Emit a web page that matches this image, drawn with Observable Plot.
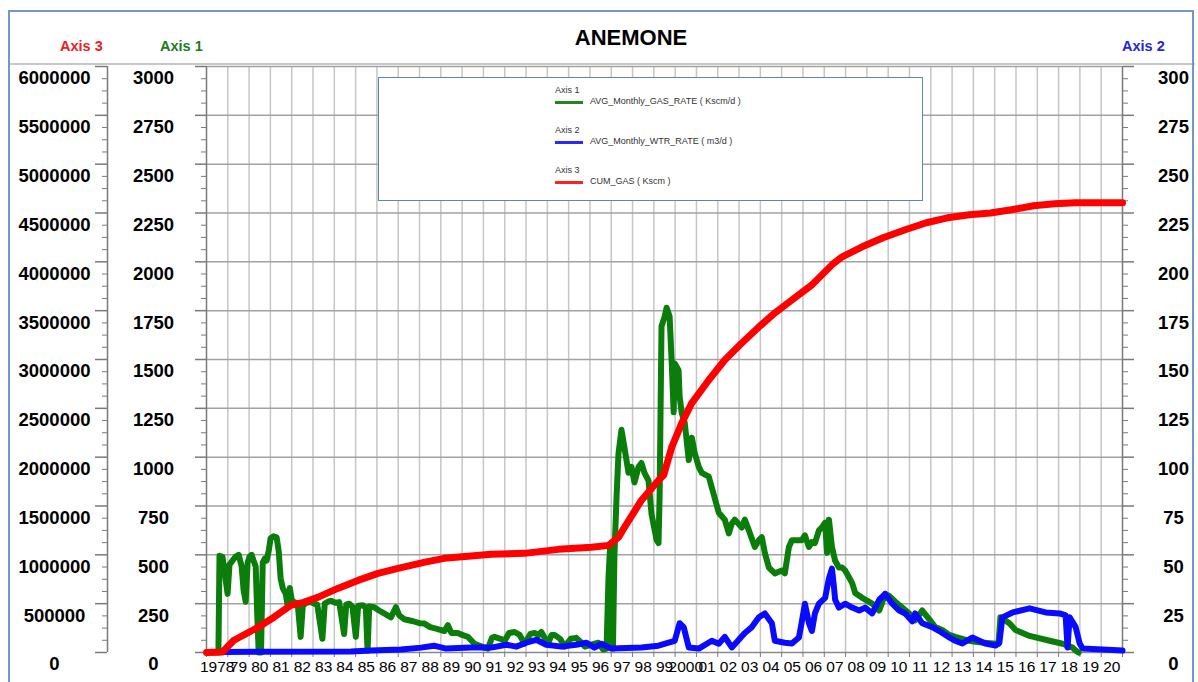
<!DOCTYPE html>
<html>
<head>
<meta charset="utf-8">
<script src="https://cdn.jsdelivr.net/npm/d3@7"></script>
<script src="https://cdn.jsdelivr.net/npm/@observablehq/plot@0.6"></script>
<style>
  html, body { margin: 0; padding: 0; background: #fff; }
  body { width: 1198px; height: 682px; overflow: hidden; position: relative; font-family: 'Liberation Sans', Arial, Helvetica, sans-serif; }
  #chart { position: absolute; left: 0; top: 0; }
  .abs { position: absolute; white-space: nowrap; }
  #frame { position: absolute; left: 8px; top: 10px; width: 1186px; height: 700px; border: 2px solid #7397cb; box-sizing: border-box; }
  #sep { position: absolute; left: 9px; top: 63px; width: 1186px; height: 2px; background: #c8c8c8; }
  #title { left: 0; width: 1262px; top: 25px; text-align: center; font-size: 22px; font-weight: bold; color: #000; }
  .axt { top: 38px; font-size: 14.5px; font-weight: bold; }
  #legend { position: absolute; left: 378px; top: 77px; width: 545px; height: 124px; box-sizing: border-box; border: 1.5px solid #5f84bb; background: #fff; }
  .lg { position: absolute; font-size: 9px; color: #333; white-space: nowrap; }
  .sw { position: absolute; width: 28px; height: 3px; }
</style>
</head>
<body>
<div id="chart"></div>
<div id="sep"></div>
<div id="frame"></div>
<div id="title" class="abs">ANEMONE</div>
<div class="abs axt" style="left:60px;color:#ee1c25;">Axis 3</div>
<div class="abs axt" style="left:160px;color:#1e7b1e;">Axis 1</div>
<div class="abs axt" style="left:1122px;color:#2525e0;">Axis 2</div>
<div id="legend"></div>
<script>
// ---------- tick labels ----------
const axis1Ticks = [0, 250, 500, 750, 1000, 1250, 1500, 1750, 2000, 2250, 2500, 2750, 3000];
const axis1Labels = ["0", "250", "500", "750", "1000", "1250", "1500", "1750", "2000", "2250", "2500", "2750", "3000"];
const axis2Labels = ["0", "25", "50", "75", "100", "125", "150", "175", "200", "225", "250", "275", "300"];
const axis3Labels = ["0", "500000", "1000000", "1500000", "2000000", "2500000", "3000000", "3500000", "4000000", "4500000", "5000000", "5500000", "6000000"];
const yearTicks = [1978, 1979, 1980, 1981, 1982, 1983, 1984, 1985, 1986, 1987, 1988, 1989, 1990, 1991, 1992, 1993, 1994, 1995, 1996, 1997, 1998, 1999, 2000, 2001, 2002, 2003, 2004, 2005, 2006, 2007, 2008, 2009, 2010, 2011, 2012, 2013, 2014, 2015, 2016, 2017, 2018, 2019, 2020, 2021];
const yearLabels = ["1978", "79", "80", "81", "82", "83", "84", "85", "86", "87", "88", "89", "90", "91", "92", "93", "94", "95", "96", "97", "98", "99", "2000", "01", "02", "03", "04", "05", "06", "07", "08", "09", "10", "11", "12", "13", "14", "15", "16", "17", "18", "19", "20"];

// ---------- series: [year, value] ----------
// Axis 1: AVG_Monthly_GAS_RATE (Kscm/d)
const gasRate = [
  [1978.00, 0], [1978.56, 0], [1978.61, 495], [1978.75, 490], [1978.89, 380], [1978.99, 300],
  [1979.08, 450], [1979.22, 470], [1979.36, 490], [1979.51, 500], [1979.65, 440], [1979.74, 320],
  [1979.84, 260], [1979.93, 460], [1980.02, 490], [1980.12, 500], [1980.21, 470], [1980.31, 440],
  [1980.38, 200], [1980.45, 0], [1980.56, 0], [1980.64, 460], [1980.73, 480], [1980.82, 470],
  [1980.92, 520], [1981.01, 585], [1981.15, 595], [1981.29, 590], [1981.39, 520], [1981.48, 380],
  [1981.58, 330], [1981.72, 300], [1981.81, 240], [1981.91, 330], [1982.00, 270], [1982.11, 258],
  [1982.28, 250], [1982.42, 80], [1982.52, 240], [1982.70, 255], [1982.90, 258], [1983.05, 250],
  [1983.20, 245], [1983.44, 70], [1983.55, 250], [1983.70, 260], [1983.84, 265], [1984.05, 255],
  [1984.23, 258], [1984.46, 95], [1984.56, 245], [1984.70, 250], [1984.85, 235], [1985.01, 80],
  [1985.12, 240], [1985.33, 242], [1985.48, 230], [1985.56, 10], [1985.64, 235], [1985.87, 232],
  [1986.10, 215], [1986.34, 200], [1986.50, 190], [1986.66, 180], [1986.89, 232], [1987.05, 190],
  [1987.29, 170], [1987.70, 160], [1988.00, 150], [1988.23, 148], [1988.50, 130], [1988.86, 120],
  [1989.17, 110], [1989.33, 140], [1989.50, 100], [1989.80, 100], [1990.00, 90], [1990.27, 80],
  [1990.58, 45], [1991.05, 25], [1991.21, 20], [1991.40, 75], [1991.52, 80], [1991.80, 70],
  [1992.00, 60], [1992.20, 100], [1992.46, 105], [1992.70, 90], [1992.93, 45], [1993.20, 95],
  [1993.40, 100], [1993.60, 90], [1993.72, 105], [1994.03, 45], [1994.20, 90], [1994.34, 90],
  [1994.60, 70], [1994.81, 30], [1995.10, 70], [1995.36, 75], [1995.60, 50], [1995.76, 30],
  [1996.07, 40], [1996.39, 50], [1996.62, 15], [1996.78, 20], [1996.87, 380], [1996.94, 530],
  [1997.01, 300], [1997.08, 20], [1997.15, 500], [1997.25, 800], [1997.34, 1020], [1997.48, 1140],
  [1997.62, 1050], [1997.81, 920], [1997.95, 950], [1998.09, 870], [1998.28, 950], [1998.42, 970],
  [1998.56, 920], [1998.75, 880], [1998.89, 710], [1999.13, 575], [1999.22, 560], [1999.27, 800],
  [1999.36, 1670], [1999.51, 1720], [1999.60, 1765], [1999.74, 1720], [1999.84, 1480], [1999.93, 1230],
  [1999.98, 1480], [2000.16, 1445], [2000.21, 1310], [2000.31, 1225], [2000.45, 1175], [2000.64, 985],
  [2000.78, 1100], [2000.92, 1020], [2001.11, 950], [2001.25, 920], [2001.58, 900], [2001.72, 845],
  [2002.05, 715], [2002.33, 680], [2002.52, 610], [2002.66, 660], [2002.80, 680], [2003.13, 640],
  [2003.27, 680], [2003.46, 625], [2003.74, 540], [2003.93, 575], [2004.07, 590], [2004.21, 510],
  [2004.40, 435], [2004.68, 405], [2005.01, 420], [2005.15, 405], [2005.34, 540], [2005.48, 575],
  [2005.95, 575], [2006.09, 600], [2006.28, 540], [2006.42, 565], [2006.56, 560], [2006.75, 625],
  [2006.89, 640], [2007.04, 665], [2007.13, 510], [2007.22, 680], [2007.36, 540], [2007.51, 470],
  [2007.69, 435], [2007.84, 435], [2007.98, 420], [2008.16, 385], [2008.31, 355], [2008.45, 305],
  [2008.78, 280], [2009.25, 250], [2009.58, 215], [2009.86, 300], [2010.05, 290], [2010.33, 260],
  [2010.66, 230], [2010.99, 200], [2011.27, 165], [2011.60, 215], [2011.93, 170], [2012.21, 130],
  [2012.54, 115], [2012.87, 90], [2013.15, 80], [2013.48, 70], [2013.81, 60], [2014.09, 55],
  [2014.52, 50], [2015.04, 45], [2015.18, 45], [2015.27, 180], [2015.69, 150], [2015.98, 115],
  [2016.64, 85], [2017.58, 60], [2018.19, 45], [2018.66, 25], [2018.80, 10], [2018.94, 0]
];

// Axis 2: AVG_Monthly_WTR_RATE (m3/d)
const waterRate = [
  [1978.75, 0.3], [1984.78, 0.5], [1985.72, 1], [1987.13, 1.5], [1988.07, 2.5], [1988.68, 3.5],
  [1989.25, 2], [1990.42, 2.5], [1991.36, 2.5], [1992.07, 4], [1992.54, 3], [1993.01, 5],
  [1993.48, 6.5], [1993.95, 4], [1994.66, 3], [1995.36, 4], [1995.84, 5], [1996.21, 2.5],
  [1996.54, 4.5], [1997.01, 2], [1998.42, 2.6], [1999.22, 3.5], [1999.69, 5], [1999.98, 6],
  [2000.21, 15], [2000.40, 13], [2000.64, 2.6], [2001.11, 2], [2001.72, 6], [2002.05, 4.5],
  [2002.33, 8], [2002.66, 2.6], [2003.27, 10], [2003.60, 13], [2003.93, 18], [2004.21, 20],
  [2004.54, 15], [2004.68, 6], [2005.15, 5], [2005.48, 4.6], [2005.81, 7.7], [2005.95, 16],
  [2006.09, 25], [2006.28, 15], [2006.42, 11], [2006.56, 20], [2006.75, 25], [2007.04, 28],
  [2007.22, 38], [2007.36, 43], [2007.46, 33], [2007.51, 27], [2007.69, 23], [2007.98, 25],
  [2008.31, 23], [2008.64, 21.5], [2008.92, 23], [2009.25, 20], [2009.58, 27], [2009.86, 30],
  [2010.19, 25], [2010.52, 21.5], [2010.80, 20], [2011.13, 16], [2011.27, 20], [2011.60, 15],
  [2012.07, 13], [2012.40, 11], [2012.87, 7.7], [2013.15, 6], [2013.48, 4.6], [2013.95, 7.7],
  [2014.28, 6], [2014.56, 4.6], [2015.04, 3.6], [2015.22, 5], [2015.36, 18], [2015.84, 20.5],
  [2016.64, 22.6], [2017.39, 20.5], [2018.05, 20], [2018.33, 19], [2018.42, 2.6], [2018.52, 18],
  [2018.80, 13], [2018.99, 4.6], [2019.13, 2], [2021.00, 1]
];

// Axis 3: CUM_GAS (Kscm)
const cumGas = [
  [1978.00, 0], [1978.75, 5000], [1979.27, 123000], [1980.40, 256000], [1981.15, 359000],
  [1981.95, 482000], [1982.56, 513000], [1983.22, 564000], [1984.16, 656000], [1985.11, 738000],
  [1986.05, 810000], [1986.99, 862000], [1988.21, 923000], [1989.15, 964000], [1990.28, 985000],
  [1991.36, 1005000], [1992.92, 1015000], [1994.52, 1056000], [1996.07, 1077000], [1996.87, 1097000],
  [1997.34, 1179000], [1997.62, 1282000], [1998.42, 1559000], [1999.22, 1764000], [1999.46, 1815000],
  [1999.84, 2102000], [2000.31, 2349000], [2000.78, 2554000], [2001.58, 2790000], [2002.33, 2995000],
  [2003.13, 3169000], [2003.93, 3333000], [2004.68, 3477000], [2005.48, 3610000], [2006.42, 3764000],
  [2007.36, 3969000], [2007.84, 4051000], [2008.78, 4154000], [2009.76, 4246000], [2010.80, 4328000],
  [2011.79, 4400000], [2012.78, 4451000], [2013.81, 4482000], [2014.80, 4500000], [2015.79, 4533000],
  [2016.82, 4574000], [2017.81, 4595000], [2018.80, 4605000], [2021.00, 4605000]
];

// ---------- chart ----------
const minorTicks = d3.range(0, 3001, 62.5).filter(d => d % 250 !== 0);
const labelPos = yearLabels.map((_, i) => yearTicks[i] + 0.5);
const axisStroke = "#7a7a7a";
const lab1 = d => axis1Labels[axis1Ticks.indexOf(d)];
const lab2 = d => axis2Labels[axis1Ticks.indexOf(d)];
const lab3 = d => axis3Labels[axis1Ticks.indexOf(d)];
const yLabelStyle = {tickSize: 0, tickPadding: 0, dy: 12, textAnchor: "middle", fontSize: 18.5, fontWeight: "bold", fill: "#000"};

const chart = Plot.plot({
  width: 1198,
  height: 682,
  marginLeft: 206,
  marginRight: 76,
  marginTop: 66,
  marginBottom: 30,
  style: {fontFamily: "'Liberation Sans', Arial, Helvetica, sans-serif", background: "transparent", color: "#000", overflow: "visible"},
  x: {domain: [1978, 2021]},
  y: {domain: [0, 3000]},
  marks: [
    // grid
    Plot.ruleX(yearTicks.slice(1, -1), {stroke: "#c6c6c6", strokeWidth: 1.5}),
    Plot.ruleY(axis1Ticks.slice(1), {stroke: "#a2a2a2", strokeWidth: 1.5}),
    Plot.ruleY([0], {stroke: "#8a8a8a", strokeWidth: 1.5}),
    Plot.ruleX([1978], {stroke: axisStroke, strokeWidth: 1.5}),
    Plot.ruleX([2021], {stroke: axisStroke, strokeWidth: 1.5}),
    Plot.ruleX([1978], {dx: -99, stroke: axisStroke, strokeWidth: 1.5}),
    // axis 1 (left, inner)
    Plot.axisY({anchor: "left", ticks: axis1Ticks, tickSize: 11, fill: "none", stroke: axisStroke, strokeWidth: 1.5}),
    Plot.axisY({anchor: "left", ticks: minorTicks, tickSize: 5, fill: "none", stroke: axisStroke}),
    Plot.axisY({anchor: "left", ticks: axis1Ticks, tickFormat: lab1, dx: -53, ...yLabelStyle}),
    // axis 3 (left, outer)
    Plot.axisY({anchor: "left", ticks: axis1Ticks, tickSize: 12, dx: -99, fill: "none", stroke: axisStroke, strokeWidth: 1.5}),
    Plot.axisY({anchor: "left", ticks: minorTicks, tickSize: 5, dx: -99, fill: "none", stroke: axisStroke}),
    Plot.axisY({anchor: "left", ticks: axis1Ticks, tickFormat: lab3, dx: -152, ...yLabelStyle}),
    // axis 2 (right)
    Plot.axisY({anchor: "right", ticks: axis1Ticks, tickSize: 11, fill: "none", stroke: axisStroke, strokeWidth: 1.5}),
    Plot.axisY({anchor: "right", ticks: minorTicks, tickSize: 5, fill: "none", stroke: axisStroke}),
    Plot.axisY({anchor: "right", ticks: axis1Ticks, tickFormat: lab2, dx: 51, ...yLabelStyle}),
    // x axis
    Plot.axisX({anchor: "bottom", ticks: yearTicks, tickSize: 5, fill: "none", stroke: axisStroke}),
    Plot.axisX({anchor: "bottom", ticks: labelPos, tickSize: 0, tickPadding: 8, tickFormat: d => yearLabels[labelPos.indexOf(d)], fontSize: 15.5, fill: "#000"}),
    // series
    Plot.line(gasRate, {x: d => d[0], y: d => d[1], stroke: "#0b7d0b", strokeWidth: 6, strokeLinejoin: "round", strokeLinecap: "round"}),
    Plot.line(waterRate, {x: d => d[0], y: d => d[1] * 10, stroke: "#0a0aff", strokeWidth: 6, strokeLinejoin: "round", strokeLinecap: "round"}),
    Plot.line(cumGas, {x: d => d[0], y: d => d[1] / 2000, stroke: "#ff0000", strokeWidth: 7, strokeLinejoin: "round", strokeLinecap: "round"})
  ]
});
document.getElementById("chart").appendChild(chart);

// ---------- legend ----------
const legendItems = [
  {axis: "Axis 1", name: "AVG_Monthly_GAS_RATE ( Kscm/d )", color: "#1e8a1e"},
  {axis: "Axis 2", name: "AVG_Monthly_WTR_RATE ( m3/d )", color: "#2a2aff"},
  {axis: "Axis 3", name: "CUM_GAS ( Kscm )", color: "#ff2020"}
];
const lg = document.getElementById("legend");
legendItems.forEach((it, i) => {
  const top = 7 + i * 40;
  const a = document.createElement("div");
  a.className = "lg"; a.style.left = "176px"; a.style.top = top + "px"; a.textContent = it.axis;
  const s = document.createElement("div");
  s.className = "sw"; s.style.left = "176px"; s.style.top = (top + 16) + "px"; s.style.background = it.color;
  const n = document.createElement("div");
  n.className = "lg"; n.style.left = "211px"; n.style.top = (top + 11) + "px"; n.textContent = it.name;
  lg.appendChild(a); lg.appendChild(s); lg.appendChild(n);
});
</script>
</body>
</html>
